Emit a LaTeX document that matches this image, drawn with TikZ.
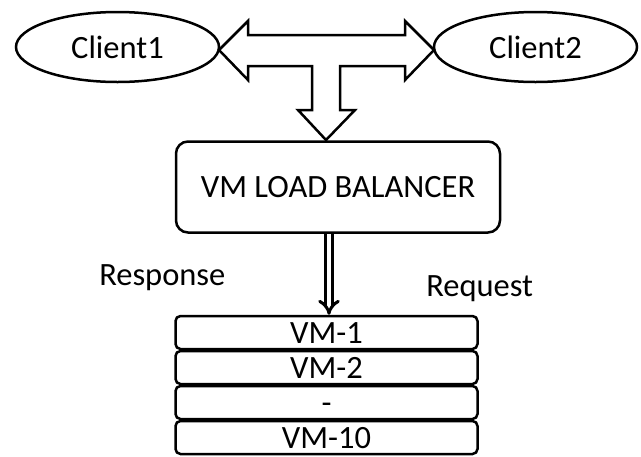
\documentclass[tikz,border=0pt]{standalone}
\usepackage{fontspec}
\setmainfont{Carlito}
\usetikzlibrary{arrows.meta,shapes.geometric}
\begin{document}
\begin{tikzpicture}[x=1pt,y=-1pt, line width=2.5pt,
  font=\fontsize{32.5}{39}\selectfont,
  client/.style={draw, ellipse, minimum width=203pt, minimum height=70pt, inner sep=0pt},
  lbbox/.style={draw, rounded corners=12pt, minimum width=324pt, minimum height=91pt, inner sep=0pt, text height=21pt, text depth=0pt},
  vmrow/.style={draw, rounded corners=5pt, minimum width=302pt, minimum height=33pt, inner sep=0pt, text height=21pt, text depth=0pt},
  lbl/.style={inner sep=0pt, anchor=base west}]
\useasboundingbox (0,0) rectangle (641,456);
\node[client] (c1) at (117.5,47) {Client1};
\node[client] (c2) at (535.5,47) {Client2};
\node[lbbox] (lb) at (338,187) {VM LOAD BALANCER};
\node[vmrow] (vm1) at (326.5,332.5) {VM-1};
\node[vmrow] (vm2) at (326.5,367.5) {VM-2};
\node[vmrow] (vm3) at (326.5,402.5) {-};
\node[vmrow] (vm4) at (326.5,437.5) {VM-10};
\node[lbl] (resp) at (98,285) {Response};
\node[lbl] (req) at (425,296) {Request};
% T-shaped block arrow
\draw[line join=miter] (219,50) -- (248,21) -- (248,35) -- (405,35) -- (405,21) -- (434,50)
  -- (405,80) -- (405,66) -- (340,66) -- (340,110) -- (355,110) -- (326,140)
  -- (298,110) -- (312,110) -- (312,66) -- (248,66) -- (248,80) -- cycle;
\coordinate (dx) at (329,0);
\draw[double, double distance=4pt, line width=3pt, -{Implies[scale=1.2]}] (lb.south -| dx) -- (vm1.north -| dx);
\end{tikzpicture}
\end{document}
